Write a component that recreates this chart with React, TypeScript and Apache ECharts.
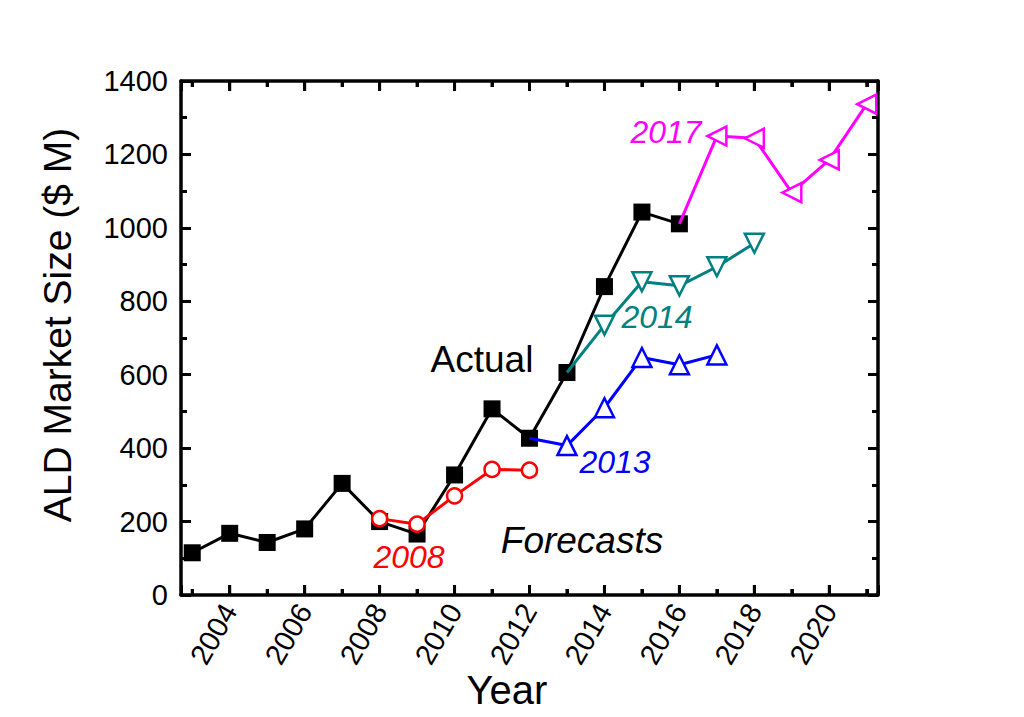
import React, { useEffect, useRef } from "react";
import * as echarts from "echarts";

const FONT = '"Liberation Sans", Arial, sans-serif';

const actualYears = [2003, 2004, 2005, 2006, 2007, 2008, 2009, 2010, 2011, 2012, 2013, 2014, 2015, 2016];
const actualValues = [115, 168, 143, 180, 304, 200, 166, 327, 507, 427, 606, 840, 1043, 1011];

const f2008Years = [2008, 2009, 2010, 2011, 2012];
const f2008Values = [208, 193, 270, 342, 340];

const f2013Years = [2013, 2014, 2015, 2016, 2017];
const f2013Values = [407, 510, 647, 627, 654];

const f2014Years = [2014, 2015, 2016, 2017, 2018];
const f2014Values = [735, 853, 842, 894, 958];

const f2017Years = [2017, 2018, 2019, 2020, 2021];
const f2017Values = [1250, 1244, 1096, 1185, 1337];

const xTickYears = [2003, 2004, 2005, 2006, 2007, 2008, 2009, 2010, 2011, 2012, 2013, 2014, 2015, 2016, 2017, 2018, 2019, 2020, 2021];

const yTicks = { min: 0, max: 1400, interval: 200 };

function pairs(xs: number[], ys: number[]) {
  return xs.map((x, i) => [x, ys[i]]);
}

function forecastData(startYear: number, startValue: number, xs: number[], ys: number[]) {
  return [{ value: [startYear, startValue], symbol: "none" }, ...pairs(xs, ys)];
}

function actualAt(year: number) {
  return actualValues[actualYears.indexOf(year)];
}

function label(text: string, x: number, y: number, font: string, fill: string, rotation = 0) {
  return {
    type: "text",
    x,
    y,
    rotation,
    z: 10,
    style: {
      text,
      font,
      fill,
      align: "center",
      textAlign: "center",
      verticalAlign: "middle",
      textVerticalAlign: "middle",
    },
  };
}

const frameLine = () => ({ show: true, onZero: false, lineStyle: { color: "#000", width: 3.5 } });
const tick = (len: number) => ({ show: true, inside: true, length: len, lineStyle: { color: "#000", width: 3 } });

function xAxisDef(position: string, min: number, max: number, withLine: boolean, len: number, labels: boolean) {
  const isInt = (v: number) => Math.abs(v - Math.round(v)) < 1e-6;
  return {
    type: "value",
    position,
    min,
    max,
    splitNumber: 9,
    splitLine: { show: false },
    axisLine: withLine ? frameLine() : { show: false, onZero: false },
    axisTick: tick(len),
    axisLabel: labels
      ? {
          show: true,
          rotate: 60,
          margin: 11,
          fontSize: 29,
          fontFamily: FONT,
          color: "#000",
          formatter: (v: number) => (isInt(v) ? String(Math.round(v)) : ""),
        }
      : { show: false },
  };
}

function yAxisDef(position: string, labels: boolean) {
  return {
    type: "value",
    position,
    min: yTicks.min,
    max: yTicks.max,
    interval: yTicks.interval,
    splitLine: { show: false },
    minorSplitLine: { show: false },
    axisLine: frameLine(),
    axisTick: tick(10),
    minorTick: { show: true, splitNumber: 2, length: 6, lineStyle: { color: "#000", width: 3 } },
    axisLabel: labels
      ? { fontSize: 29, fontFamily: FONT, color: "#000", margin: 13, formatter: (v: number) => String(v) }
      : { show: false },
  };
}

export default function App() {
  const ref = useRef<HTMLDivElement>(null);
  useEffect(() => {
    document.body.style.margin = "0";
    if (!ref.current) return;
    const chart = echarts.init(ref.current, null, { renderer: "svg" });
    const option: any = {
      animation: false,
      backgroundColor: "#fff",
      grid: { left: 181, right: 146, top: 81, bottom: 122, containLabel: false },
      xAxis: [
        xAxisDef("bottom", 2002.7, 2021.3, true, 10, true),
        xAxisDef("top", 2002.7, 2021.3, true, 10, false),
        xAxisDef("top", 2001.7, 2020.3, false, 6, false),
        xAxisDef("bottom", 2001.7, 2020.3, false, 6, false),
      ],
      yAxis: [yAxisDef("left", true), yAxisDef("right", false)],
      series: [
        {
          name: "xticks",
          type: "custom",
          silent: true,
          clip: false,
          z: 5,
          data: xTickYears.map((y) => [y, 0]),
          renderItem: (params: any, api: any) => {
            const year = api.value(0);
            const p = api.coord([year, 0]);
            const cs = params.coordSys;
            const len = Math.round(year) % 2 === 0 ? 10 : 6;
            const bottom = cs.y + cs.height;
            const top = cs.y;
            const st = { stroke: "#000", lineWidth: 3 };
            return {
              type: "group",
              children: [
                { type: "line", shape: { x1: p[0], y1: bottom, x2: p[0], y2: bottom - len }, style: st },
                { type: "line", shape: { x1: p[0], y1: top, x2: p[0], y2: top + len }, style: st },
              ],
            };
          },
        },
        {
          name: "Actual",
          type: "line",
          data: pairs(actualYears, actualValues),
          symbol: "rect",
          symbolSize: 17,
          lineStyle: { color: "#000", width: 3 },
          itemStyle: { color: "#000", borderWidth: 0 },
          z: 2,
        },
        {
          name: "2013",
          type: "line",
          data: forecastData(2012, actualAt(2012), f2013Years, f2013Values),
          symbol: "triangle",
          symbolSize: 19,
          lineStyle: { color: "#0000ff", width: 3 },
          itemStyle: { color: "#fff", borderColor: "#0000ff", borderWidth: 2.5 },
          z: 3,
        },
        {
          name: "2014",
          type: "line",
          data: forecastData(2013, actualAt(2013), f2014Years, f2014Values),
          symbol: "triangle",
          symbolRotate: 180,
          symbolSize: 19,
          lineStyle: { color: "#008080", width: 3 },
          itemStyle: { color: "#fff", borderColor: "#008080", borderWidth: 2.5 },
          z: 3,
        },
        {
          name: "2017",
          type: "line",
          data: forecastData(2016, actualAt(2016), f2017Years, f2017Values),
          symbol: "triangle",
          symbolRotate: 90,
          symbolSize: 19,
          lineStyle: { color: "#ff00ff", width: 3 },
          itemStyle: { color: "#fff", borderColor: "#ff00ff", borderWidth: 2.5 },
          z: 3,
        },
        {
          name: "2008",
          type: "line",
          data: pairs(f2008Years, f2008Values),
          symbol: "circle",
          symbolSize: 15,
          lineStyle: { color: "#ff0000", width: 3 },
          itemStyle: { color: "#fff", borderColor: "#ff0000", borderWidth: 2.5 },
          z: 4,
        },
      ],
      graphic: [
        label("ALD Market Size ($ M)", 57, 325, `39px ${FONT}`, "#000", Math.PI / 2),
        label("Year", 507, 690, `40px ${FONT}`, "#000"),
        label("Actual", 482, 359, `37px ${FONT}`, "#000"),
        label("Forecasts", 582, 540, `italic 37px ${FONT}`, "#000"),
        label("2008", 409, 557, `italic 32px ${FONT}`, "#ff0000"),
        label("2013", 615, 462, `italic 32px ${FONT}`, "#0000ff"),
        label("2014", 657, 317, `italic 32px ${FONT}`, "#008080"),
        label("2017", 666, 132, `italic 32px ${FONT}`, "#ff00ff"),
      ],
    };
    chart.setOption(option);
    return () => chart.dispose();
  }, []);
  return <div ref={ref} style={{ width: 1024, height: 717 }} />;
}
